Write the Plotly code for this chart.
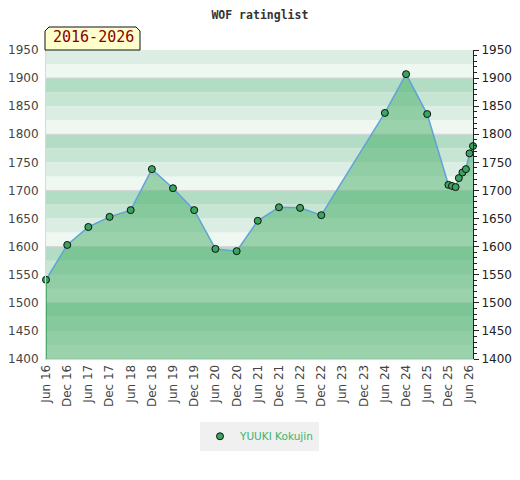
import plotly.graph_objects as go
import pandas as pd

# ratings
dates = ['2016-06', '2016-12', '2017-06', '2017-12', '2018-06', '2018-12',
         '2019-06', '2019-12', '2020-06', '2020-12', '2021-06', '2021-12',
         '2022-06', '2022-12', '2024-06', '2024-12', '2025-06', '2025-12',
         '2026-01', '2026-02', '2026-03', '2026-04', '2026-05', '2026-06',
         '2026-07']
ratings = [1541, 1603, 1635, 1653, 1665, 1738, 1704, 1665, 1596, 1592,
           1646, 1670, 1669, 1656, 1838, 1907, 1836, 1710, 1708, 1706,
           1722, 1732, 1738, 1766, 1779]
player = 'YUUKI Kokujin'
period = '2016-2026'
y_ticks = list(range(1400, 1951, 50))

x = pd.to_datetime(dates)

fig = go.Figure()

# background bands, 25 points each, repeating every 100
band_cols = ['#eff7f1', '#dcede3', '#c7e5d3', '#b2dcc3']
shapes = []
for lo in range(1400, 1950, 25):
    shapes.append(dict(type='rect', xref='paper', yref='y', x0=0, x1=1,
                       y0=lo, y1=lo + 25, fillcolor=band_cols[(lo // 25) % 4],
                       line_width=0, layer='below'))
for v in range(1400, 1951, 100):
    shapes.append(dict(type='line', xref='paper', yref='y', x0=0, x1=1,
                       y0=v, y1=v, line=dict(color='#d4d4d4', width=1),
                       layer='below'))

# tab with clipped corners for the period label
shapes.append(dict(type='path', xref='paper', yref='paper',
                   xsizemode='pixel', ysizemode='pixel', xanchor=0, yanchor=1,
                   path='M -1,0 L -1,19 L 3,23 L 90,23 L 94,19 L 94,0 Z',
                   fillcolor='#ffffcc', line=dict(color='#111', width=1),
                   layer='above'))

fig.add_trace(go.Scatter(
    x=x, y=ratings, mode='lines+markers', fill='tozeroy',
    fillcolor='rgba(70,174,103,0.5)',
    line=dict(color='#5fa3d8', width=1.5),
    marker=dict(size=7, color='#3aa55e', line=dict(color='#111', width=1)),
    showlegend=False, cliponaxis=False))

# left edge of the area
fig.add_trace(go.Scatter(
    x=[x[0], x[0]], y=[1400, ratings[0]], mode='lines',
    line=dict(color='#3a9d5d', width=1.5), showlegend=False, hoverinfo='skip'))

fig.add_trace(go.Scatter(
    x=[None], y=[None], mode='markers', name=player,
    marker=dict(size=7, color='#3aa55e', line=dict(color='#111', width=1))))

# twin axis on the right
fig.add_trace(go.Scatter(x=[x[0]], y=[1400], yaxis='y2', mode='markers',
                         marker=dict(opacity=0), showlegend=False,
                         hoverinfo='skip'))

# page body has an 8px margin, so the figure is 8px smaller each way
fig.update_layout(
    width=512, height=472,
    margin=dict(l=38, r=47, t=42, b=121),
    plot_bgcolor='white', paper_bgcolor='white',
    font=dict(family='DejaVu Sans', size=12, color='#444'),
    title=dict(text='<b>WOF ratinglist</b>', x=0.492, xanchor='center',
               y=0.986, yanchor='middle', automargin=False,
               font=dict(family='DejaVu Sans Mono', size=11.5, color='#333')),
    xaxis=dict(type='date', range=[x[0], x[-1]], tick0='2016-06-01',
               dtick='M6', tickformat='%b %y', tickangle=-90,
               showgrid=False, zeroline=False, showline=True,
               linecolor='#d8d8d8', linewidth=1, ticks='', automargin=False,
               tickfont=dict(size=12, color='#444')),
    yaxis=dict(range=[1400, 1950], tickvals=y_ticks, showgrid=False,
               zeroline=False, showline=True, linecolor='#d8d8d8',
               ticks='', ticklabelstandoff=4, automargin=False,
               tickfont=dict(size=12, color='#444')),
    yaxis2=dict(range=[1400, 1950], tickvals=y_ticks, overlaying='y',
                side='right', showgrid=False, zeroline=False, showline=True,
                linecolor='#222', linewidth=1, ticks='outside', ticklen=5,
                tickcolor='#222', automargin=False,
                minor=dict(dtick=10, tick0=1400, ticks='outside', ticklen=3,
                           tickcolor='#222', showgrid=False),
                tickfont=dict(size=12, color='#222')),
    legend=dict(orientation='h', x=0.5, xanchor='center', y=-0.25,
                yanchor='middle', bgcolor='#f0f0f0', itemwidth=30,
                font=dict(size=10.5, color='#3cb36a')),
    shapes=shapes,
    annotations=[dict(text=period, xref='paper', yref='paper', x=0,
                      y=1, xanchor='left', yanchor='bottom', showarrow=False,
                      xshift=5, yshift=2,
                      font=dict(family='DejaVu Sans Mono', size=15,
                                color='#8b0000'))],
)

fig.write_html("out.html")
